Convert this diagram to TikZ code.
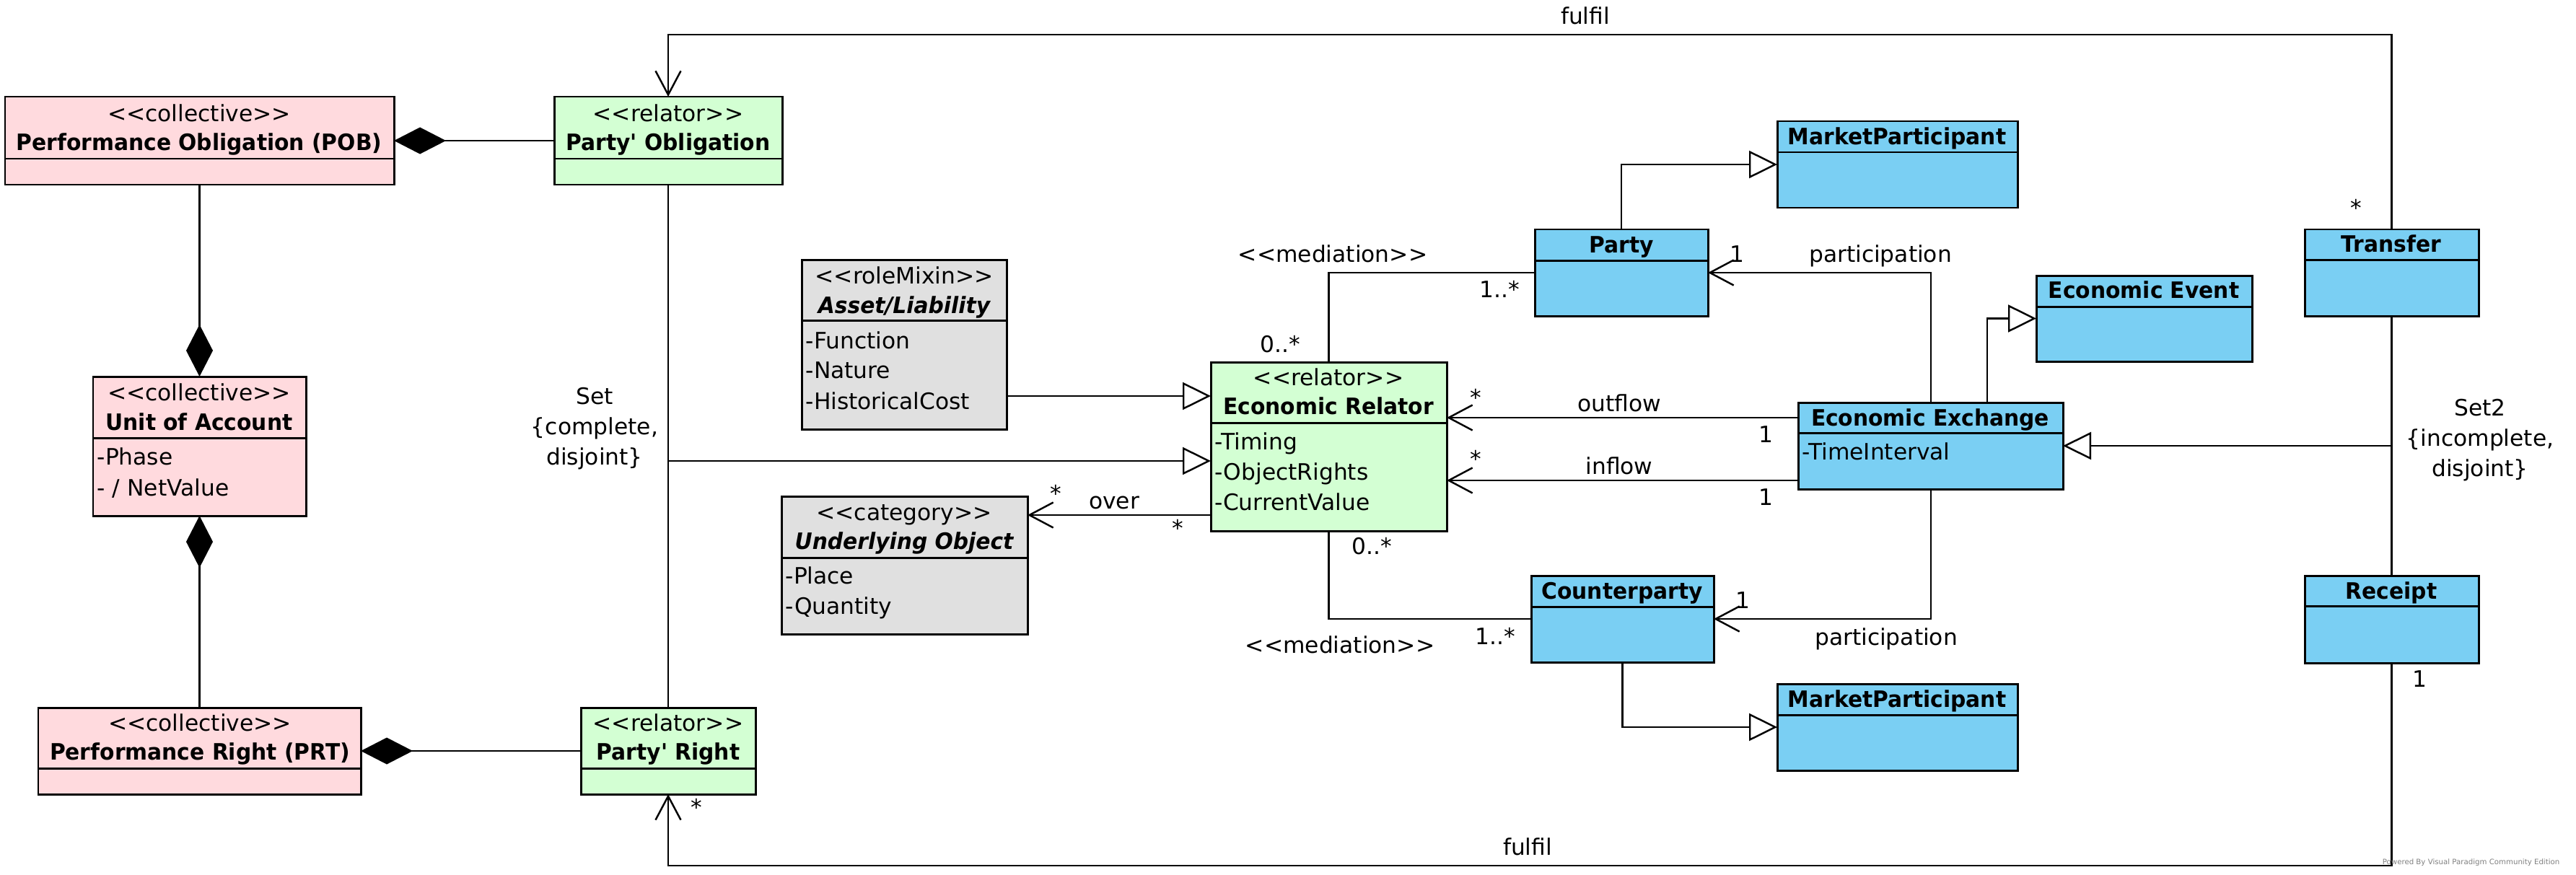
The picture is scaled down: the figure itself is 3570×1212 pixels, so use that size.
\documentclass[tikz,border=0pt]{standalone}
\usepackage{fontspec}
\usetikzlibrary{arrows.meta,fit}
\newfontfamily\umlf{DejaVu Sans}[BoldFeatures={FakeStretch=0.95},BoldItalicFeatures={FakeStretch=0.95}]
\newcommand\ufont{\umlf\fontsize{8.9pt}{11.9pt}\selectfont}
\definecolor{cpink}{RGB}{255,218,222}
\definecolor{cgreen}{RGB}{211,255,211}
\definecolor{cblue}{RGB}{122,207,243}
\definecolor{cgray}{RGB}{224,224,224}
\tikzset{
  clsbox/.style={draw=black, line width=0.85pt, inner sep=0pt, outer sep=0pt},
  divline/.style={line width=0.85pt},
  conn/.style={line width=0.7pt},
  txt/.style={font=\ufont, inner sep=0pt, text height=8pt, text depth=1.8pt},
  nm/.style={txt, font=\ufont\bfseries},
  nmi/.style={txt, font=\ufont\bfseries\itshape},
  att/.style={txt, anchor=west},
  mtxt/.style={font=\ufont, inner sep=0pt, align=center},
  gen/.style={-{Triangle[open,length=0.39cm,width=0.38cm,fill=white]}},
  barb/.style={-{Straight Barb[length=0.33cm,width=0.35cm]}},
  comp/.style={-{Diamond[length=0.72cm,width=0.37cm]}},
}
\newcommand\umlbox[7]{%
  \node[clsbox, fill=#7, fit={(#2,#3) (#4,#5)}] (#1) {};
  \draw[divline] (#2,#6) -- (#4,#6);
}
\begin{document}
\begin{tikzpicture}[x=0.01cm,y=-0.01cm]
\fill[white] (0,0) rectangle (3570,1212);
\useasboundingbox (0,0) rectangle (3570,1212);

% ---------- classes ----------
\umlbox{pob}{7}{134}{546}{256}{220}{cpink}
\node[txt] (pob-s) at (276,158) {<<collective>>};
\node[nm]  (pob-n) at (276,198) {Performance Obligation (POB)};

\umlbox{po}{768}{134}{1084}{256}{220}{cgreen}
\node[txt] (po-s) at (926,158) {<<relator>>};
\node[nm]  (po-n) at (926,198) {Party' Obligation};

\umlbox{uoa}{129}{522}{424}{715}{607}{cpink}
\node[txt] (uoa-s) at (276,545) {<<collective>>};
\node[nm]  (uoa-n) at (276,586) {Unit of Account};
\node[att] (uoa-a1) at (134,634) {-Phase};
\node[att] (uoa-a2) at (134,677) {- / NetValue};

\umlbox{prt}{53}{981}{500}{1101}{1065}{cpink}
\node[txt] (prt-s) at (277,1003) {<<collective>>};
\node[nm]  (prt-n) at (277,1043) {Performance Right (PRT)};

\umlbox{pr}{805}{981}{1047}{1101}{1065}{cgreen}
\node[txt] (pr-s) at (926,1003) {<<relator>>};
\node[nm]  (pr-n) at (926,1043) {Party' Right};

\umlbox{al}{1111}{360}{1395}{595}{444}{cgray}
\node[txt] (al-s) at (1253,383) {<<roleMixin>>};
\node[nmi] (al-n) at (1253,424) {Asset/Liability};
\node[att] (al-a1) at (1116,473) {-Function};
\node[att] (al-a2) at (1116,514) {-Nature};
\node[att] (al-a3) at (1116,557) {-HistoricalCost};

\umlbox{uo}{1083}{688}{1424}{879}{773}{cgray}
\node[txt] (uo-s) at (1253,711) {<<category>>};
\node[nmi] (uo-n) at (1253,751) {Underlying Object};
\node[att] (uo-a1) at (1088,799) {-Place};
\node[att] (uo-a2) at (1088,841) {-Quantity};

\umlbox{er}{1678}{502}{2005}{736}{586}{cgreen}
\node[txt] (er-s) at (1841,524) {<<relator>>};
\node[nm]  (er-n) at (1841,564) {Economic Relator};
\node[att] (er-a1) at (1683,613) {-Timing};
\node[att] (er-a2) at (1683,655) {-ObjectRights};
\node[att] (er-a3) at (1683,697) {-CurrentValue};

\umlbox{pa}{2127}{318}{2367}{438}{361}{cblue}
\node[nm] (pa-n) at (2247,340) {Party};

\umlbox{mpa}{2463}{168}{2796}{288}{211}{cblue}
\node[nm] (mpa-n) at (2629,190) {MarketParticipant};

\umlbox{ev}{2822}{382}{3121}{501}{425}{cblue}
\node[nm] (ev-n) at (2971,403) {Economic Event};

\umlbox{ee}{2492}{558}{2859}{678}{600}{cblue}
\node[nm]  (ee-n) at (2675,580) {Economic Exchange};
\node[att] (ee-a1) at (2497,627) {-TimeInterval};

\umlbox{cp}{2122}{798}{2375}{918}{841}{cblue}
\node[nm] (cp-n) at (2248,820) {Counterparty};

\umlbox{mpb}{2463}{948}{2796}{1068}{991}{cblue}
\node[nm] (mpb-n) at (2629,970) {MarketParticipant};

\umlbox{tr}{3194}{318}{3435}{438}{360}{cblue}
\node[nm] (tr-n) at (3314,339) {Transfer};

\umlbox{rc}{3194}{798}{3435}{919}{840}{cblue}
\node[nm] (rc-n) at (3314,820) {Receipt};

% ---------- helper coordinates ----------
\coordinate (setj) at (926,639);
\coordinate (aly) at (0,549);
\coordinate (ovy) at (0,714);
\coordinate (ptx) at (2676,0);
\coordinate (gx) at (2754,0);
\coordinate (ofy) at (0,579);
\coordinate (ify) at (0,666);
\coordinate (s2j) at (3315,618);
\coordinate (fty) at (0,48);
\coordinate (fby) at (0,1200);

% ---------- connectors ----------
\draw[conn,comp] (po.west) -- (pob.east);
\draw[conn,comp] (pob.south) -- (uoa.north);
\draw[conn,comp] (prt.north) -- (uoa.south);
\draw[conn,comp] (pr.west) -- (prt.east);
\draw[conn] (po.south) -- (pr.north);
\draw[conn,gen] (setj) -- (setj -| er.west);
\draw[conn,gen] (al.east |- aly) -- (er.west |- aly);
\draw[conn,barb] (er.west |- ovy) -- (uo.east |- ovy);
\draw[conn] (er.north) |- (pa.west);
\draw[conn] (er.south) |- (cp.west);
\draw[conn,gen] (pa.north) |- (mpa.west);
\draw[conn,gen] (cp.south) |- (mpb.west);
\draw[conn,barb] (ee.north -| ptx) |- (pa.east);
\draw[conn,barb] (ee.south -| ptx) |- (cp.east);
\draw[conn,gen] (ee.north -| gx) |- (ev.west);
\draw[conn,barb] (ee.west |- ofy) -- (er.east |- ofy);
\draw[conn,barb] (ee.west |- ify) -- (er.east |- ify);
\draw[conn] (tr.south) -- (rc.north);
\draw[conn,gen] (s2j) -- (ee.east);
\draw[conn,barb] (tr.north) |- (fty -| po.north) -- (po.north);
\draw[conn,barb] (rc.south) |- (fby -| pr.south) -- (pr.south);

% ---------- labels ----------
\node[txt] (l-ful1) at (2197,23) {fulfil};
\node[txt] (l-ful2) at (2117,1175) {fulfil};
\node[txt] (l-trs) at (3265,289) {*};
\node[txt] (l-prs) at (965,1120) {*};
\node[txt] (l-rc1) at (3353,942) {1};
\node[mtxt] (l-set) at (824,594) {Set\\{\{}complete,\\disjoint{\}}};
\node[mtxt] (l-set2) at (3437,610) {Set2\\{\{}incomplete,\\disjoint{\}}};

\node[txt] (l-med1) at (1847,353) {<<mediation>>};
\node[txt] (l-m1a) at (1774,478) {0..*};
\node[txt] (l-m1b) at (2078,402) {1..*};
\node[txt] (l-par1) at (2606,353) {participation};
\node[txt] (l-p1) at (2407,353) {1};

\node[txt] (l-out) at (2244,560) {outflow};
\node[txt] (l-outs) at (2045,552) {*};
\node[txt] (l-out1) at (2447,603) {1};
\node[txt] (l-in) at (2244,647) {inflow};
\node[txt] (l-ins) at (2045,637) {*};
\node[txt] (l-in1) at (2447,690) {1};

\node[txt] (l-over) at (1544,695) {over};
\node[txt] (l-ov1) at (1463,685) {*};
\node[txt] (l-ov2) at (1632,733) {*};

\node[txt] (l-m2a) at (1901,758) {0..*};
\node[txt] (l-m2b) at (2072,883) {1..*};
\node[txt] (l-med2) at (1857,895) {<<mediation>>};
\node[txt] (l-p2) at (2415,833) {1};
\node[txt] (l-par2) at (2614,884) {participation};

\node[font=\umlf\fontsize{2.9pt}{3pt}\selectfont, text=gray, inner sep=0pt, anchor=east] (wm) at (3548,1196) {Powered By Visual Paradigm Community Edition};
\end{tikzpicture}
\end{document}
